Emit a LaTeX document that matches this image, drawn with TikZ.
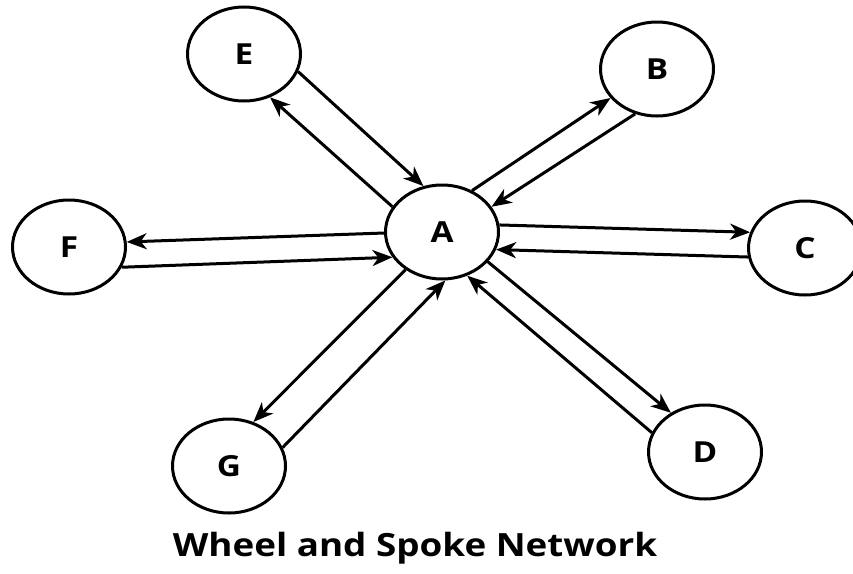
\documentclass[tikz,border=0pt]{standalone}
\usepackage{fontspec}
\newfontfamily\labfont[FakeStretch=1.15]{Open Sans}
\newfontfamily\titfont[FakeStretch=1.15]{Open Sans}
\usetikzlibrary{arrows.meta,shapes.geometric}
\begin{document}
\begin{tikzpicture}[x=1pt,y=-1pt,line width=3pt,
  hub/.style={ellipse,draw,minimum width=113pt,minimum height=94pt,inner sep=0pt,
    font=\labfont\bfseries\fontsize{29}{32}\selectfont},
  link/.style={-{Stealth[length=20pt,width=16pt,inset=6pt]}},
  title/.style={font=\titfont\bfseries\fontsize{32}{36}\selectfont,anchor=base}]
\useasboundingbox (0,0) rectangle (853,573);
\node[hub] (A) at (442,232) {A};
\node[hub] (E) at (244,54) {E};
\node[hub] (B) at (657,69) {B};
\node[hub] (F) at (69,247) {F};
\node[hub] (C) at (805,248) {C};
\node[hub] (G) at (229,466) {G};
\node[hub] (D) at (705,452) {D};
\node[title] (T) at (415,556) {Wheel and Spoke Network};
% A - E
\draw[link] (A.153) -- (E.-59);
\draw[link] (E.-18) -- (A.112);
% A - F
\draw[link] (A.181) -- (F.5);
\draw[link] (F.-21) -- (A.207);
% A - B
\draw[link] (A.54) -- (B.212);
\draw[link] (B.244) -- (A.27);
% A - C
\draw[link] (A.7) -- (C.164);
\draw[link] (C.189) -- (A.-18);
% A - G
\draw[link] (A.226) -- (G.61);
\draw[link] (G.19) -- (A.274);
% A - D
\draw[link] (A.-33) -- (D.131);
\draw[link] (D.160) -- (A.-60);
\end{tikzpicture}
\end{document}
